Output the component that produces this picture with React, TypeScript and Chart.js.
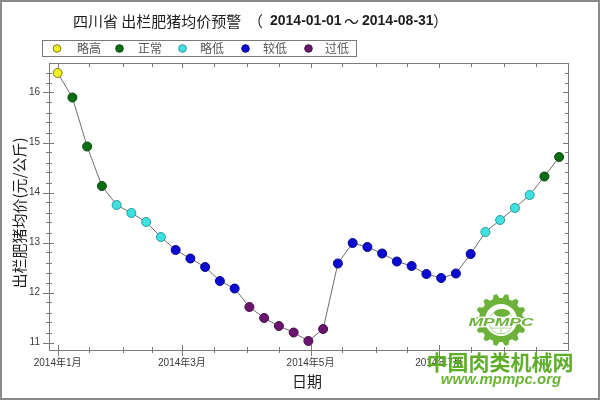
import React, { useEffect, useRef } from "react";
import { Chart, registerables } from "chart.js";

Chart.register(...registerables);

// ---------- data ----------
const weekDates = [
  "2014-01-01", "2014-01-08", "2014-01-15", "2014-01-22", "2014-01-29",
  "2014-02-05", "2014-02-12", "2014-02-19", "2014-02-26",
  "2014-03-05", "2014-03-12", "2014-03-19", "2014-03-26",
  "2014-04-02", "2014-04-09", "2014-04-16", "2014-04-23", "2014-04-30",
  "2014-05-07", "2014-05-14", "2014-05-21", "2014-05-28",
  "2014-06-04", "2014-06-11", "2014-06-18", "2014-06-25",
  "2014-07-02", "2014-07-09", "2014-07-16", "2014-07-23", "2014-07-30",
  "2014-08-06", "2014-08-13", "2014-08-20", "2014-08-27",
];
const prices = [
  16.39, 15.9, 14.92, 14.13, 13.75, 13.59, 13.41, 13.11, 12.85, 12.68,
  12.51, 12.23, 12.08, 11.71, 11.49, 11.33, 11.2, 11.03, 11.27, 12.58,
  12.99, 12.91, 12.78, 12.62, 12.53, 12.37, 12.29, 12.38, 12.77, 13.21,
  13.45, 13.69, 13.95, 14.32, 14.71,
];
// 0 略高, 1 正常, 2 略低, 3 较低, 4 过低
const levels = [
  0, 1, 1, 1, 2, 2, 2, 2, 3, 3, 3, 3, 3, 4, 4, 4, 4, 4, 4, 3,
  3, 3, 3, 3, 3, 3, 3, 3, 3, 2, 2, 2, 2, 1, 1,
];
const levelNames = ["略高", "正常", "略低", "较低", "过低"];
const levelFill = ["#f4f020", "#0c6e12", "#3ee2e2", "#0a0ad2", "#6a1470"];
const levelBorder = ["#7a7a20", "#0a4a0c", "#2a9a9c", "#06068a", "#451048"];

const majorTickDates = ["2014-01-01", "2014-03-01", "2014-05-01", "2014-07-01"];
const majorTickLabels = ["2014年1月", "2014年3月", "2014年5月", "2014年7月"];
const minorTickDates = [
  "2014-01-16", "2014-02-01", "2014-02-15", "2014-03-16", "2014-04-01",
  "2014-04-16", "2014-05-16", "2014-06-01", "2014-06-16", "2014-07-16",
  "2014-08-01", "2014-08-16",
];
const yMajorTicks = [11, 12, 13, 14, 15, 16];
const yMinorStep = 0.2;

const titleMain = "四川省 出栏肥猪均价预警";
const titleFrom = "2014-01-01";
const titleTo = "2014-08-31";
const yTitle = "出栏肥猪均价(元/公斤)";
const xTitle = "日期";

// ---------- helpers ----------
const dayOf = (s: string) => {
  const [y, m, d] = s.split("-").map(Number);
  return (Date.UTC(y, m - 1, d) - Date.UTC(2014, 0, 1)) / 86400000;
};

const CJK = '"Noto Sans CJK SC", "Liberation Sans", sans-serif';
const SANS = '"Liberation Sans", "Noto Sans CJK SC", sans-serif';

const decor = {
  id: "decor",
  beforeDraw(chart: any) {
    const { ctx, width, height } = chart;
    ctx.save();
    ctx.fillStyle = "#ffffff";
    ctx.fillRect(0, 0, width, height);
    ctx.restore();
  },
  beforeDatasetsDraw(chart: any) {
    const { ctx, chartArea } = chart;
    const xs = chart.scales.x;
    const ys = chart.scales.y;
    const L = Math.round(chartArea.left);
    const R = Math.round(chartArea.right);
    const T = Math.round(chartArea.top);
    const B = Math.round(chartArea.bottom);
    ctx.save();
    ctx.strokeStyle = "#7a7a7a";
    ctx.lineWidth = 1;
    ctx.strokeRect(L + 0.5, T + 0.5, R - L, B - T);

    ctx.beginPath();
    // y ticks
    const yMin = ys.min, yMax = ys.max;
    for (let v = Math.ceil(yMin / yMinorStep) * yMinorStep; v <= yMax + 1e-9; v += yMinorStep) {
      const vv = Math.round(v * 100) / 100;
      const py = Math.round(ys.getPixelForValue(vv)) + 0.5;
      const major = yMajorTicks.some((t) => Math.abs(t - vv) < 1e-6);
      if (major) {
        ctx.moveTo(L - 6, py); ctx.lineTo(L + 5, py);
        ctx.moveTo(R - 5, py); ctx.lineTo(R, py);
      } else {
        ctx.moveTo(L - 3, py); ctx.lineTo(L + 3, py);
        ctx.moveTo(R - 3, py); ctx.lineTo(R, py);
      }
    }
    // x ticks
    majorTickDates.forEach((d) => {
      const px = Math.round(xs.getPixelForValue(dayOf(d))) + 0.5;
      ctx.moveTo(px, B - 5); ctx.lineTo(px, B + 6);
      ctx.moveTo(px, T); ctx.lineTo(px, T + 5);
    });
    minorTickDates.forEach((d) => {
      const px = Math.round(xs.getPixelForValue(dayOf(d))) + 0.5;
      ctx.moveTo(px, B - 3); ctx.lineTo(px, B + 3);
      ctx.moveTo(px, T); ctx.lineTo(px, T + 4);
    });
    ctx.stroke();

    // tick labels
    ctx.fillStyle = "#3a3a3a";
    ctx.font = `10px ${SANS}`;
    ctx.textAlign = "right";
    ctx.textBaseline = "middle";
    yMajorTicks.forEach((t) => {
      ctx.fillText(String(t), L - 9, ys.getPixelForValue(t));
    });
    ctx.textAlign = "center";
    majorTickDates.forEach((d, i) => {
      ctx.fillText(majorTickLabels[i], xs.getPixelForValue(dayOf(d)), B + 13);
    });

    // axis titles
    ctx.fillStyle = "#1e1e1e";
    ctx.font = `15px ${CJK}`;
    ctx.fillText(xTitle, 307, 381);
    ctx.save();
    ctx.translate(19, 213);
    ctx.rotate(-Math.PI / 2);
    ctx.fillText(yTitle, 0, 0);
    ctx.restore();

    // title
    ctx.textAlign = "left";
    ctx.fillStyle = "#1e1e1e";
    ctx.font = `15px ${CJK}`;
    ctx.fillText(titleMain, 73, 21);
    ctx.fillText("（", 248, 21);
    ctx.font = `bold 14px ${SANS}`;
    ctx.fillText(titleFrom, 270, 21);
    ctx.font = `15px ${CJK}`;
    ctx.fillText("～", 344, 21);
    ctx.font = `bold 14px ${SANS}`;
    ctx.fillText(titleTo, 362, 21);
    ctx.font = `15px ${CJK}`;
    ctx.fillText("）", 433, 21);

    // legend
    ctx.fillStyle = "#ffffff";
    ctx.fillRect(43, 41, 313, 15);
    ctx.strokeStyle = "#7a7a7a";
    ctx.strokeRect(42.5, 40.5, 314, 16);
    const lx = [57, 119.5, 182.5, 245.5, 308.5];
    const tx = [77, 138, 200, 263, 325];
    levelNames.forEach((name, i) => {
      ctx.beginPath();
      ctx.arc(lx[i], 48.5, 3.8, 0, Math.PI * 2);
      ctx.fillStyle = levelFill[i];
      ctx.fill();
      ctx.strokeStyle = levelBorder[i];
      ctx.stroke();
      ctx.fillStyle = "#555555";
      ctx.font = `12px ${CJK}`;
      ctx.textBaseline = "middle";
      ctx.fillText(name, tx[i], 48.5);
    });
    ctx.restore();
  },
  afterDraw(chart: any) {
    const { ctx, width, height } = chart;
    ctx.save();
    // watermark logo (gear)
    const cx = 501, cy = 320;
    const green = "#6cb23a";
    ctx.fillStyle = green;
    ctx.beginPath();
    const teeth = 14;
    for (let i = 0; i < teeth * 2; i++) {
      const a = (i / (teeth * 2)) * Math.PI * 2;
      const r = i % 2 === 0 ? 26 : 22;
      const a1 = a - Math.PI / (teeth * 2) * 0.6;
      const a2 = a + Math.PI / (teeth * 2) * 0.6;
      ctx.lineTo(cx + r * Math.cos(a1), cy + r * Math.sin(a1));
      ctx.lineTo(cx + r * Math.cos(a2), cy + r * Math.sin(a2));
    }
    ctx.closePath();
    ctx.fill();
    ctx.fillStyle = "#ffffff";
    ctx.beginPath();
    ctx.arc(cx, cy, 16, 0, Math.PI * 2);
    ctx.fill();
    ctx.strokeStyle = "#a8d48a";
    ctx.lineWidth = 1;
    ctx.beginPath();
    ctx.arc(cx, cy + 2, 12, 0, Math.PI * 2);
    ctx.moveTo(cx - 12, cy + 2); ctx.lineTo(cx + 12, cy + 2);
    ctx.moveTo(cx - 10, cy + 8); ctx.lineTo(cx + 10, cy + 8);
    ctx.moveTo(cx, cy - 10); ctx.lineTo(cx, cy + 14);
    ctx.stroke();
    ctx.fillStyle = green;
    ctx.beginPath();
    ctx.ellipse(cx + 1, cy - 7, 8, 4, 0, 0, Math.PI * 2);
    ctx.fill();
    ctx.font = `italic bold 14px ${SANS}`;
    ctx.textAlign = "center";
    ctx.textBaseline = "middle";
    ctx.lineWidth = 3;
    ctx.strokeStyle = "#ffffff";
    ctx.save();
    ctx.translate(cx, cy + 3);
    ctx.scale(1.25, 0.8);
    ctx.strokeText("MPMPC", 0, 0);
    ctx.fillStyle = green;
    ctx.fillText("MPMPC", 0, 0);
    ctx.restore();

    // watermark texts
    ctx.fillStyle = "#5fae2a";
    ctx.font = `bold 21px ${CJK}`;
    ctx.fillText("中国肉类机械网", 500, 362);
    ctx.fillStyle = "#6ab436";
    ctx.font = `italic bold 15px ${SANS}`;
    ctx.fillText("www.mpmpc.org", 501, 380);

    // outer border
    ctx.strokeStyle = "#8a8a8a";
    ctx.lineWidth = 2;
    ctx.strokeRect(1, 1, width - 2, height - 2);
    ctx.restore();
  },
};

export default function App() {
  const ref = useRef<HTMLCanvasElement | null>(null);
  useEffect(() => {
    document.body.style.margin = "0";
    const canvas = ref.current;
    if (!canvas) return;
    const points = weekDates.map((d, i) => ({ x: dayOf(d), y: prices[i] }));
    const chart = new Chart(canvas, {
      type: "line",
      data: {
        datasets: [
          {
            label: "均价",
            data: points,
            borderColor: "#6e6e6e",
            borderWidth: 1,
            pointRadius: 4.5,
            pointBorderWidth: 1,
            pointBackgroundColor: levels.map((l) => levelFill[l]),
            pointBorderColor: levels.map((l) => levelBorder[l]),
            tension: 0,
            fill: false,
          },
        ],
      },
      options: {
        animation: false,
        responsive: false,
        maintainAspectRatio: false,
        devicePixelRatio: 1,
        layout: { padding: { left: 49, right: 32, top: 63, bottom: 50 } },
        scales: {
          x: { type: "linear", min: dayOf("2014-01-01") - 4.1, max: dayOf("2014-08-31") + 0.2, display: false },
          y: { type: "linear", min: 10.85, max: 16.59, display: false },
        },
        plugins: { legend: { display: false }, tooltip: { enabled: false }, title: { display: false } },
      },
      plugins: [decor],
    });
    return () => chart.destroy();
  }, []);
  return <canvas ref={ref} width={600} height={400} style={{ display: "block", width: 600, height: 400 }} />;
}
